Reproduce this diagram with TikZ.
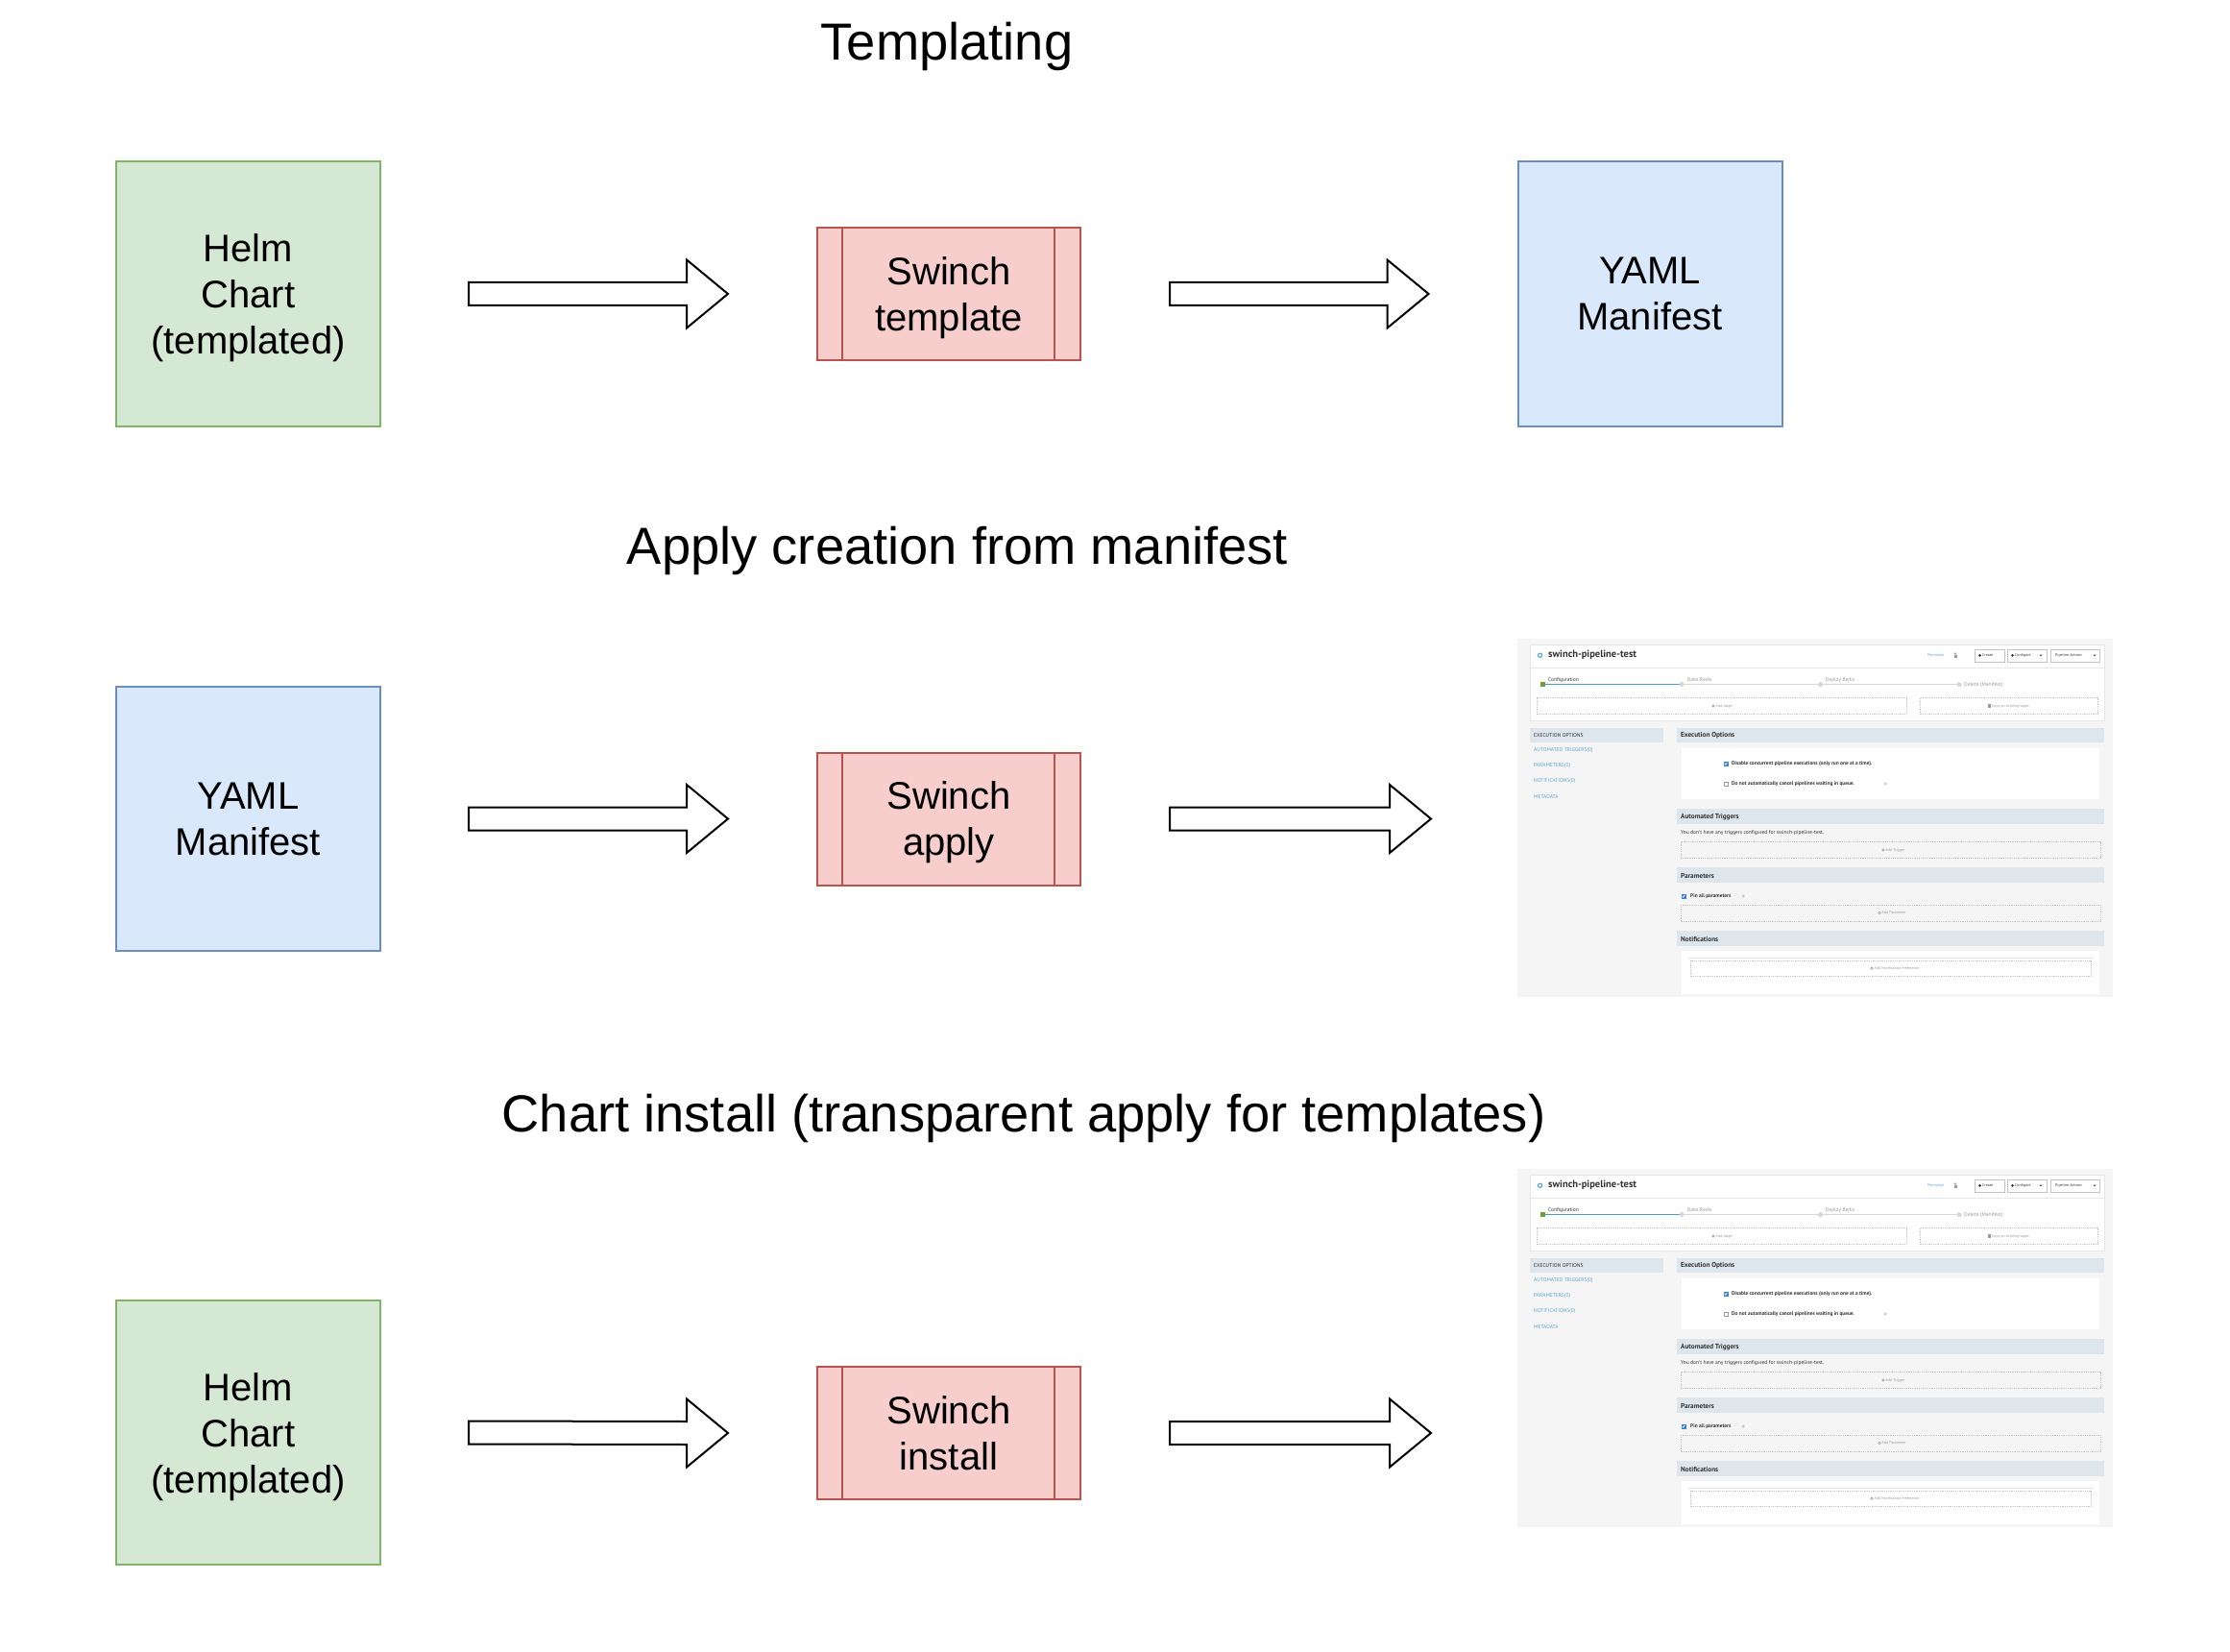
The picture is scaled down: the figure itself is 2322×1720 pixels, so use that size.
\documentclass[tikz,border=0pt]{standalone}
\usepackage{fontspec}
\setmainfont{Liberation Sans}
\newfontfamily\uifont{PT Sans}
\usetikzlibrary{calc}
\definecolor{greenfill}{HTML}{D5E8D4}
\definecolor{greenline}{HTML}{82B366}
\definecolor{bluefill}{HTML}{DAE8FC}
\definecolor{blueline}{HTML}{6C8EBF}
\definecolor{redfill}{HTML}{F8CECC}
\definecolor{redline}{HTML}{B85450}
\definecolor{shotbg}{HTML}{F5F5F5}
\definecolor{panelline}{HTML}{E6E6E6}
\definecolor{barfill}{HTML}{DCE6EC}
\definecolor{linkblue}{HTML}{5FA8CF}
\definecolor{darktext}{HTML}{333333}
\definecolor{greytext}{HTML}{9A9A9A}
\definecolor{progblue}{HTML}{4A9CC0}
\definecolor{stagegreen}{HTML}{6E9E3E}
\definecolor{stagegray}{HTML}{D8D8D8}
\definecolor{checkblue}{HTML}{3B82D6}
\definecolor{dashline}{HTML}{C4C4C4}
\tikzset{
  bigbox/.style={draw, line width=2pt, minimum width=275pt, minimum height=275pt,
    inner sep=0pt, align=center, text depth=0pt, font=\fontsize{40}{48}\selectfont},
  helmbox/.style={bigbox, fill=greenfill, draw=greenline},
  yamlbox/.style={bigbox, fill=bluefill, draw=blueline},
  procbox/.style={draw=redline, fill=redfill, line width=2pt, minimum width=274pt,
    minimum height=138pt, inner sep=0pt, align=center, text depth=0pt, font=\fontsize{40}{48}\selectfont},
  procline/.style={draw=redline, line width=2pt},
  titletext/.style={font=\fontsize{54.3}{64}\selectfont, anchor=base, inner sep=0pt},
  blockarrow/.style={draw=black, fill=white, line width=2pt, line join=miter},
  uitxt/.style={inner sep=0pt, anchor=west, font=\uifont\fontsize{5.5}{5.5}\selectfont},
  uibold/.style={inner sep=0pt, anchor=west, font=\uifont\bfseries\fontsize{5.4}{5.4}\selectfont, text=darktext},
  uihead/.style={inner sep=0pt, anchor=west, font=\uifont\bfseries\fontsize{7.2}{7.2}\selectfont, text=darktext},
  uismall/.style={inner sep=0pt, anchor=west, font=\uifont\fontsize{4}{4}\selectfont, text=greytext},
  dashbox/.style={draw=dashline, line width=0.5pt, dash pattern=on 1pt off 0.8pt},
  uibutton/.style={draw=dashline, fill=white, line width=0.4pt},
}
\newcommand\blockarr[2]{%
  \draw[blockarrow] ($(#1)+(0,-12)$) -- ($(#2)+(-43,-12)$) -- ($(#2)+(-43,-35.5)$)
    -- (#2) -- ($(#2)+(-43,35.5)$) -- ($(#2)+(-43,12)$) -- ($(#1)+(0,12)$) -- cycle;}
\newcommand\procsides[1]{%
  \draw[procline] ($(#1.north west)+(27,0)$) -- ($(#1.south west)+(27,0)$);
  \draw[procline] ($(#1.north east)+(-28,0)$) -- ($(#1.south east)+(-28,0)$);}
\newcommand\addicon[2]{\fill[greytext] (#1,#2) circle (1.6); \fill[white] (#1,#2) circle (0.7);}
\newcommand\uishot[1]{%
\begin{scope}[shift={(#1)}]
  \fill[shotbg] (0,0) rectangle (620,373);
  % header panel
  \filldraw[fill=white, draw=panelline, line width=0.6pt] (13,6) rectangle (611,85);
  \draw[panelline, line width=0.6pt] (13,30) -- (611,30);
  \draw[linkblue, line width=1.2pt] (23.6,17.3) circle (2.1);
  \node[inner sep=0pt, anchor=west, text=darktext, font=\uifont\bfseries\fontsize{10.5}{10.5}\selectfont] at (32,17.3) {swinch-pipeline-test};
  \node[uismall, text=linkblue] at (427,17.3) {Permalink};
  \fill[greytext] (454.5,16.5) rectangle (457.5,19.5);
  \draw[greytext, line width=0.5pt] (455.2,16.5) -- (455.2,15) arc (180:0:0.8) -- (456.8,16.5);
  \filldraw[uibutton] (476,10.7) rectangle (507,24.3);
  \filldraw[uibutton] (510,10.7) rectangle (551,24.3);
  \filldraw[uibutton] (555,10.7) rectangle (606,24.3);
  \fill[darktext] (481.5,17.3) circle (1.5);
  \node[uismall, text=darktext] at (484,17.3) {Create};
  \fill[darktext] (515.5,17.3) circle (1.5);
  \node[uismall, text=darktext] at (518,17.3) {Configure};
  \fill[darktext] (543.5,16.6) -- (546.5,16.6) -- (545,18.3) -- cycle;
  \node[uismall, text=darktext] at (560,17.3) {Pipeline Actions};
  \fill[darktext] (599.5,16.6) -- (602.5,16.6) -- (601,18.3) -- cycle;
  % stages
  \draw[stagegray, line width=0.5pt] (171,47.3) -- (460,47.3);
  \draw[progblue, line width=1pt] (26.5,47.3) -- (171,47.3);
  \fill[stagegreen] (24.3,44.6) rectangle (29,50);
  \fill[stagegray] (171,47.5) circle (2.6);
  \fill[stagegray] (315.5,47.7) circle (2.6);
  \fill[stagegray] (460,47.7) circle (2.6);
  \node[uitxt, text=darktext] at (32,43) {Configuration};
  \node[uitxt, text=greytext] at (177,43) {Bake Redis};
  \node[uitxt, text=greytext] at (320.5,43) {Deploy Redis};
  \node[uitxt, text=greytext] at (465,47.7) {Delete (Manifest)};
  \draw[dashbox] (20,61.7) rectangle (405,78.3);
  \draw[dashbox] (419,61.7) rectangle (604,78.3);
  \addicon{204}{70}
  \node[uismall] at (206.5,70) {Add stage};
  \fill[greytext] (489.5,68.3) rectangle (492.5,71.5);
  \node[uismall] at (494,70) {Copy an existing stage};
  % sidebar
  \fill[barfill] (13,92.7) rectangle (152,108.3);
  \node[uitxt, text=darktext] at (17,100.5) {EXECUTION OPTIONS};
  \node[uitxt, text=linkblue] at (17,116.3) {AUTOMATED TRIGGERS(0)};
  \node[uitxt, text=linkblue] at (17,132.2) {PARAMETERS(0)};
  \node[uitxt, text=linkblue] at (17,148.2) {NOTIFICATIONS(0)};
  \node[uitxt, text=linkblue] at (17,164.2) {METADATA};
  % execution options
  \fill[barfill] (166,92.7) rectangle (611,108.3);
  \node[uihead] at (170,101) {Execution Options};
  \fill[white] (171,114) rectangle (606,166.7);
  \filldraw[fill=checkblue, draw=checkblue, line width=0.3pt] (214.8,127.8) rectangle (219.2,132.2);
  \draw[white, line width=0.6pt] (215.7,130) -- (216.8,131.2) -- (218.4,128.7);
  \node[uibold] at (223,130) {Disable concurrent pipeline executions (only run one at a time).};
  \draw[greytext, line width=0.4pt] (214.8,148.8) rectangle (219.2,153.2);
  \node[uibold] at (223,151) {Do not automatically cancel pipelines waiting in queue.};
  \draw[greytext, line width=0.3pt] (383,151) circle (1.3);
  % automated triggers
  \fill[barfill] (166,176.7) rectangle (611,193.3);
  \node[uihead] at (170,185.7) {Automated Triggers};
  \node[uitxt, text=darktext] at (170,202.3) {You don't have any triggers configured for swinch-pipeline-test.};
  \draw[dashbox] (170,211.7) rectangle (607,228.3);
  \addicon{381}{220}
  \node[uismall] at (383.5,220) {Add Trigger};
  % parameters
  \fill[barfill] (166,238) rectangle (611,254);
  \node[uihead] at (170,247) {Parameters};
  \filldraw[fill=checkblue, draw=checkblue, line width=0.3pt] (170.8,265.8) rectangle (175.2,270.2);
  \draw[white, line width=0.6pt] (171.7,268) -- (172.8,269.2) -- (174.4,266.7);
  \node[uibold] at (180,268) {Pin all parameters};
  \draw[greytext, line width=0.3pt] (235,268) circle (1.3);
  \draw[dashbox] (170,277) rectangle (607,294);
  \addicon{377}{285.5}
  \node[uismall] at (379.5,285.5) {Add Parameter};
  % notifications
  \fill[barfill] (166,304) rectangle (611,320);
  \node[uihead] at (170,312.7) {Notifications};
  \fill[white] (171,325) rectangle (606,370);
  \draw[panelline, line width=0.5pt] (178,332.3) -- (600,332.3);
  \draw[dashbox] (180,335) rectangle (597,351.7);
  \addicon{369}{343.3}
  \node[uismall] at (371.5,343.3) {Add Notification Preference};
\end{scope}}
\begin{document}
\begin{tikzpicture}[x=1pt, y=-1pt]
\useasboundingbox (0,0) rectangle (2322,1720);
\fill[white] (0,0) rectangle (2322,1720);

% titles
\node[titletext] (t1) at (986,63) {Templating};
\node[titletext] (t2) at (997,587) {Apply creation from manifest};
\node[titletext] (t3) at (1066,1178) {Chart install (transparent apply for templates)};

% row 1
\node[helmbox] (helm1) at (258.5,306) {Helm\\Chart\\(templated)};
\node[procbox] (sw1) at (988,306) {Swinch\\template};
\procsides{sw1}
\node[yamlbox] (yaml1) at (1718,306) {YAML\\Manifest};
\coordinate (a1s) at ($(helm1.east)+(91,0)$);
\coordinate (a1e) at ($(sw1.west)+(-92,0)$);
\coordinate (a2s) at ($(sw1.east)+(92,0)$);
\coordinate (a2e) at ($(yaml1.west)+(-92,0)$);
\blockarr{a1s}{a1e}
\blockarr{a2s}{a2e}

% row 2
\node[yamlbox] (yaml2) at (258.5,852.5) {YAML\\Manifest};
\node[procbox] (sw2) at (988,852.5) {Swinch\\apply};
\procsides{sw2}
\coordinate (shot2) at (1580,665);
\uishot{shot2}
\coordinate (b1s) at ($(yaml2.east)+(91,0)$);
\coordinate (b1e) at ($(sw2.west)+(-92,0)$);
\coordinate (b2s) at ($(sw2.east)+(92,0)$);
\coordinate (b2e) at ($(sw2.east)+(364,0)$);
\blockarr{b1s}{b1e}
\blockarr{b2s}{b2e}

% row 3
\node[helmbox] (helm3) at (258.5,1491.5) {Helm\\Chart\\(templated)};
\node[procbox] (sw3) at (988,1492) {Swinch\\install};
\procsides{sw3}
\coordinate (shot3) at (1580,1217);
\uishot{shot3}
\coordinate (c1s) at ($(helm3.east)+(91,0)$);
\coordinate (c1e) at ($(sw3.west)+(-92,0)$);
\coordinate (c2s) at ($(sw3.east)+(92,0)$);
\coordinate (c2e) at ($(sw3.east)+(364,0)$);
\blockarr{c1s}{c1e}
\blockarr{c2s}{c2e}
\end{tikzpicture}
\end{document}
